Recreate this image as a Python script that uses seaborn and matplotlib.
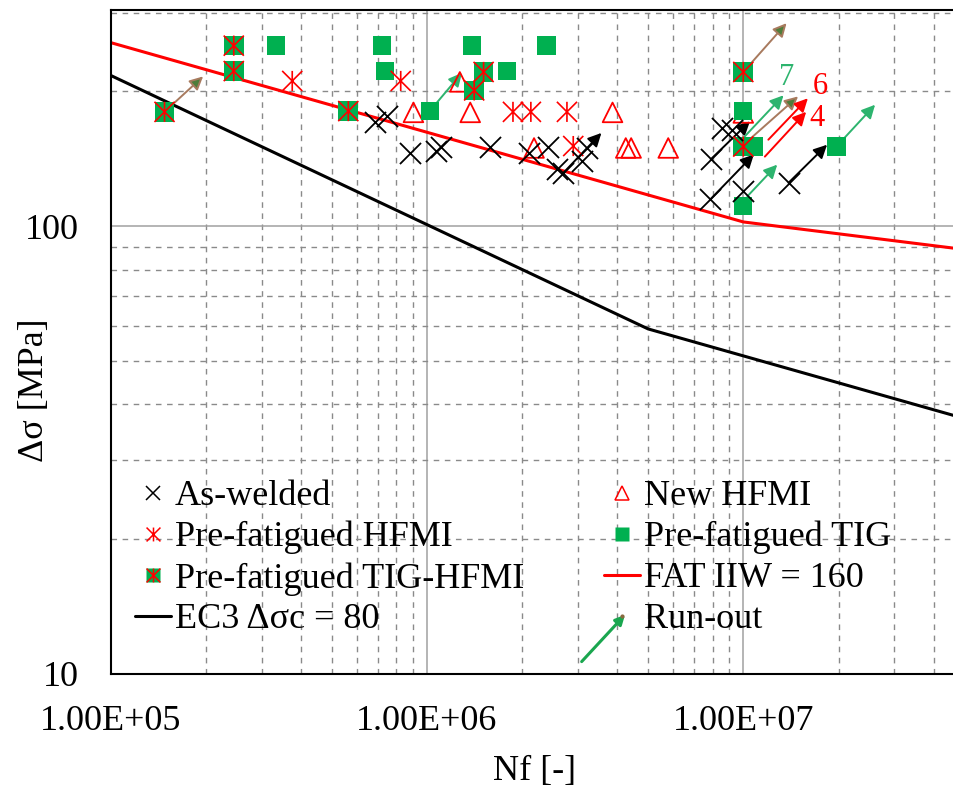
import matplotlib
matplotlib.use("Agg")
import matplotlib.pyplot as plt
import matplotlib.ticker as mticker
from matplotlib.lines import Line2D
from matplotlib.path import Path
import seaborn as sns
import numpy as np

# ---------------- data ----------------
aw_N = [6.86e5, 7.46e5, 8.83e5, 1.07e6, 1.11e6, 1.58e6, 2.10e6, 2.41e6, 2.57e6,
        2.70e6, 3.08e6, 3.21e6, 7.89e6, 7.87e6, 8.55e6, 9.18e6, 1.0e7, 1.39e7]
aw_S = [171, 176, 146, 147, 150.6, 150.4, 145.8, 150.6, 133.9,
        131.6, 139.6, 149.5, 141, 114.8, 165.7, 164, 119.8, 125]

hfmi_N = [3.75e5, 8.26e5, 1.87e6, 2.13e6, 2.77e6, 2.90e6]
hfmi_S = [211, 211, 180, 180, 180, 151]

new_N = [9.06e5, 1.27e6, 1.37e6, 2.18e6, 3.86e6, 4.25e6, 4.42e6, 5.79e6, 1.0e7]
new_S = [179.5, 210, 179.5, 149.5, 179.5, 149.5, 149.5, 149.5, 179]

tig_N = [3.33e5, 7.21e5, 7.36e5, 1.02e6, 1.39e6, 1.79e6, 2.39e6, 1.0e7, 1.08e7, 1.0e7, 1.97e7]
tig_S = [253, 253, 222, 180.7, 253, 222, 253, 180.7, 150.6, 110.9, 150.6]

th_N = [1.48e5, 2.45e5, 2.45e5, 5.64e5, 1.51e6, 1.41e6, 1.0e7, 1.0e7]
th_S = [180, 253, 222, 180.7, 221, 201, 221, 150.6]

ec3_N = [1e5, 5e6, 5e7]
ec3_S = [217.1, 58.96, 37.2]

fat_N = [1e5, 1e7, 5e7]
fat_S = [257, 102.2, 88.7]

# run-out arrows: start (N0, S0) -> end (N1, S1), series kind
ro_N0 = [1.48e5, 1.02e6, 2.70e6, 1.0e7, 7.89e6, 7.87e6, 1.03e7, 1.39e7, 1.97e7,
         1.01e7, 1.06e7, 1.20e7, 1.17e7]
ro_S0 = [180, 180.7, 131.6, 221, 141, 114.8, 116.6, 125, 150.6,
         158.6, 157.5, 156, 143]
ro_N1 = [1.96e5, 1.29e6, 3.56e6, 1.37e7, 1.05e7, 1.08e7, 1.28e7, 1.84e7, 2.61e7,
         1.34e7, 1.49e7, 1.60e7, 1.58e7]
ro_S1 = [216, 220, 161.5, 284, 171.5, 144.6, 137.2, 152, 186.7,
         196, 194.9, 193, 180]
ro_kind = ["th", "tig", "aw", "th", "aw", "aw", "tig", "aw", "tig",
           "tig", "th", "hfmi", "hfmi"]

# run-out count labels
cnt_text = ["7", "6", "4"]
cnt_N = [1.37e7, 1.75e7, 1.71e7]
cnt_S = [215, 205, 174]
cnt_kind = ["tig", "hfmi", "hfmi"]

xticks = [1e5, 1e6, 1e7]
xticklabels = ["1.00E+05", "1.00E+06", "1.00E+07"]
yticks = [10, 100]
yticklabels = ["10", "100"]

labels = ["As-welded", "Pre-fatigued HFMI", "Pre-fatigued TIG-HFMI", "EC3 Δσc = 80",
          "New HFMI", "Pre-fatigued TIG", "FAT IIW = 160", "Run-out"]

# ---------------- style ----------------
sns.set_theme(style="white")
plt.rcParams["font.family"] = ["Liberation Serif", "DejaVu Serif"]
plt.rcParams["text.color"] = "black"
FS = 26

GREEN = "#00b050"
RED = "#ff0000"
ARROW_COL = {"aw": ("black", "black"), "tig": ("#2db46e", "#2db46e"),
             "th": ("#a87a5e", "#4e7d3a"), "hfmi": (RED, RED)}

# asterisk marker: vertical bar plus a diagonal cross
AST = Path([(0, -1), (0, 1), (-1, -1), (1, 1), (-1, 1), (1, -1)],
           [Path.MOVETO, Path.LINETO, Path.MOVETO, Path.LINETO, Path.MOVETO, Path.LINETO])

fig = plt.figure(figsize=(9.54, 7.89), dpi=100)
ax = fig.add_axes([0.116, 0.1458, 0.8949, 0.8416])
ax.set_xscale("log")
ax.set_yscale("log")

# lines
sns.lineplot(x=ec3_N, y=ec3_S, color="black", lw=2.2, ax=ax, estimator=None, sort=False, zorder=2)
sns.lineplot(x=fat_N, y=fat_S, color=RED, lw=2.2, ax=ax, estimator=None, sort=False, zorder=2)

# run-out arrows
for n0, s0, n1, s1, k in zip(ro_N0, ro_S0, ro_N1, ro_S1, ro_kind):
    ec, fc = ARROW_COL[k]
    ax.annotate("", xy=(n1, s1), xytext=(n0, s0),
                arrowprops=dict(arrowstyle="-|>", ec=ec, fc=fc, lw=1.4,
                                mutation_scale=20, shrinkA=0, shrinkB=0),
                zorder=3)

# markers
sns.scatterplot(x=new_N, y=new_S, marker="^", s=200, facecolor="none",
                edgecolor=RED, linewidth=1.3, ax=ax, zorder=4)
sns.scatterplot(x=tig_N, y=tig_S, marker="s", s=175, color=GREEN,
                edgecolor="none", linewidth=0, ax=ax, zorder=5)
sns.scatterplot(x=th_N, y=th_S, marker="s", s=200, color=GREEN,
                edgecolor="none", linewidth=0, ax=ax, zorder=5)
sns.scatterplot(x=th_N, y=th_S, marker=AST, s=210, facecolor="none",
                edgecolor=RED, linewidth=1.2, ax=ax, zorder=6)
sns.scatterplot(x=hfmi_N, y=hfmi_S, marker=AST, s=210, facecolor="none",
                edgecolor=RED, linewidth=1.2, ax=ax, zorder=6)
sns.scatterplot(x=aw_N, y=aw_S, marker="x", s=230, color="black",
                linewidth=1.3, ax=ax, zorder=6)

for t, n, s, k in zip(cnt_text, cnt_N, cnt_S, cnt_kind):
    ax.text(n, s, t, color=ARROW_COL[k][0], fontsize=22, ha="center", va="center", zorder=7)

# axes
ax.set_xlim(1e5, 5e7)
ax.set_ylim(10, 304)
ax.xaxis.set_major_locator(mticker.FixedLocator(xticks))
ax.xaxis.set_major_formatter(mticker.FixedFormatter(xticklabels))
ax.yaxis.set_major_locator(mticker.FixedLocator(yticks))
ax.yaxis.set_major_formatter(mticker.FixedFormatter(yticklabels))
ax.xaxis.set_minor_locator(mticker.LogLocator(base=10, subs=np.arange(2, 10)))
ax.yaxis.set_minor_locator(mticker.LogLocator(base=10, subs=np.arange(2, 10)))
ax.xaxis.set_minor_formatter(mticker.NullFormatter())
ax.yaxis.set_minor_formatter(mticker.NullFormatter())
ax.tick_params(which="both", length=0)
ax.tick_params(axis="x", labelsize=FS, pad=22, colors="black")
ax.tick_params(axis="y", labelsize=FS, pad=23, colors="black")
ax.set_axisbelow(True)
ax.grid(which="major", color="#a0a0a0", lw=1.1, ls="-")
ax.grid(which="minor", color="#8a8a8a", lw=1.0, ls=(0, (4, 4)))
for sp in ax.spines.values():
    sp.set_color("black")
    sp.set_linewidth(1.5)

ax.set_xlabel("Nf [-]", fontsize=FS, color="black")
ax.set_ylabel("Δσ [MPa]", fontsize=FS, color="black")
ax.xaxis.set_label_coords(0.497, -0.122)
ax.yaxis.set_label_coords(-0.070, 0.4275)

# legend
h_aw = Line2D([], [], ls="", marker="x", color="black", ms=10, mew=1.1)
h_hf = Line2D([], [], ls="", marker=AST, mfc="none", mec=RED, ms=10, mew=1.1)
h_sq = Line2D([], [], ls="", marker="s", color=GREEN, mec="none", ms=10)
h_th = (h_sq, Line2D([], [], ls="", marker=AST, mfc="none", mec=RED, ms=10, mew=1.1))
h_ec = Line2D([], [], color="black", lw=2.2)
h_new = Line2D([], [], ls="", marker="^", mfc="none", mec=RED, ms=10, mew=1.1)
h_tig = Line2D([], [], ls="", marker="s", color=GREEN, mec="none", ms=10)
h_fat = Line2D([], [], color=RED, lw=2.2)
h_ro = Line2D([], [], ls="", marker="o", color="#8a6a40", ms=2)
handles = [h_aw, h_hf, h_th, h_ec, h_new, h_tig, h_fat, h_ro]
leg = ax.legend(handles, labels, ncol=2, loc="upper left", bbox_to_anchor=(0.0285, 0.292),
                frameon=False, fontsize=FS, borderpad=0, borderaxespad=0,
                handlelength=1.0, handletextpad=0.1, columnspacing=2.22,
                labelspacing=0.21, labelcolor="black")
ax.annotate("", xy=(0.6025, 0.0891), xytext=(0.5517, 0.0186), xycoords="axes fraction",
            arrowprops=dict(arrowstyle="-|>", color="#1aa64f", lw=2.2, mutation_scale=14,
                            shrinkA=0, shrinkB=0))

fig.savefig("out.png", dpi=100)
